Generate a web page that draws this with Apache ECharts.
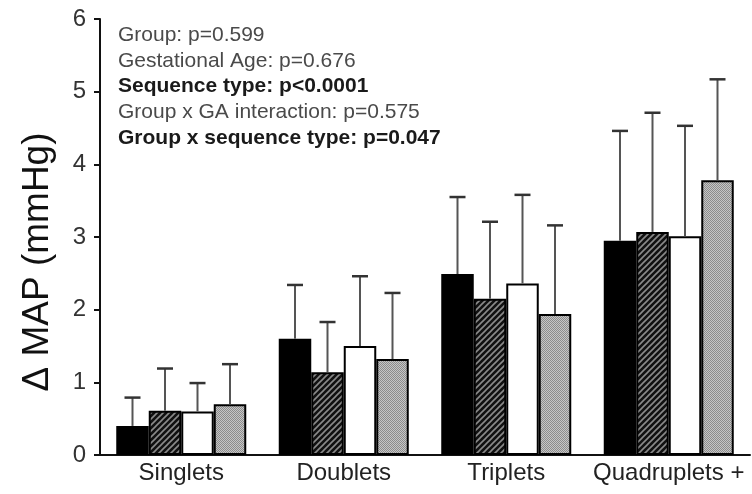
<!DOCTYPE html>
<html>
<head>
<meta charset="utf-8">
<script src="https://cdn.jsdelivr.net/npm/echarts@6/dist/echarts.min.js"></script>
<style>
  html, body { margin: 0; padding: 0; background: #fff; }
  #chart { width: 752px; height: 494px; }
</style>
</head>
<body>
<div id="chart"></div>
<script>
// Change in mean arterial pressure by plurality, four groups per category
const categories = ['Singlets', 'Doublets', 'Triplets', 'Quadruplets +'];
const groupNames = ['Group 1', 'Group 2', 'Group 3', 'Group 4'];

// bar heights (mean ΔMAP, mmHg)
const meanSolid   = [0.40, 1.60, 2.49, 2.95];
const meanHatched = [0.61, 1.14, 2.15, 3.07];
const meanWhite   = [0.60, 1.50, 2.36, 3.01];
const meanDotted  = [0.70, 1.32, 1.94, 3.78];

// upper end of each error bar (mean + SD)
const upperSolid   = [0.79, 2.34, 3.55, 4.46];
const upperHatched = [1.19, 1.83, 3.21, 4.71];
const upperWhite   = [0.99, 2.46, 3.58, 4.53];
const upperDotted  = [1.25, 2.23, 3.16, 5.17];

const yTicks = [0, 1, 2, 3, 4, 5, 6];

const statLines = [
  { text: 'Group: p=0.599', bold: false },
  { text: 'Gestational Age: p=0.676', bold: false },
  { text: 'Sequence type: p<0.0001', bold: true },
  { text: 'Group x GA interaction: p=0.575', bold: false },
  { text: 'Group x sequence type: p=0.047', bold: true }
];

// fill patterns
function hatchPattern() {
  const c = document.createElement('canvas');
  c.width = 6; c.height = 6;
  const g = c.getContext('2d');
  g.fillStyle = '#111';
  g.fillRect(0, 0, 6, 6);
  g.strokeStyle = '#8a8a8a';
  g.lineWidth = 1.6;
  g.beginPath();
  g.moveTo(-1, 7); g.lineTo(7, -1);
  g.moveTo(-4, 4); g.lineTo(4, -4);
  g.moveTo(2, 10); g.lineTo(10, 2);
  g.stroke();
  return c;
}
function dotPattern() {
  const c = document.createElement('canvas');
  c.width = 2; c.height = 2;
  const g = c.getContext('2d');
  g.fillStyle = '#c6c6c6';
  g.fillRect(0, 0, 2, 2);
  g.fillStyle = '#8c8c8c';
  g.fillRect(0, 0, 1, 1);
  g.fillRect(1, 1, 1, 1);
  return c;
}

const fills = [
  '#000',
  { image: hatchPattern(), repeat: 'repeat' },
  '#fff',
  { image: dotPattern(), repeat: 'repeat' }
];
const means = [meanSolid, meanHatched, meanWhite, meanDotted];
const uppers = [upperSolid, upperHatched, upperWhite, upperDotted];

const FONT = '"Liberation Sans", Arial, sans-serif';

const barSeries = means.map((vals, i) => ({
  name: groupNames[i],
  type: 'bar',
  data: vals,
  barGap: '0%',
  barCategoryGap: '20%',
  itemStyle: { color: fills[i], borderColor: '#000', borderWidth: 2 },
  z: 2
}));

// error bars drawn on top of each bar
const errData = [];
uppers.forEach((ups, s) => ups.forEach((u, c) => errData.push([c, means[s][c], u, s])));

const errSeries = {
  type: 'custom',
  name: 'error',
  data: errData,
  z: 3,
  renderItem: function (params, api) {
    const c = api.value(0), m = api.value(1), u = api.value(2), s = api.value(3);
    const band = api.size([1, 0])[0];
    const barW = band * 0.8 / 4;
    const base = api.coord([c, m]);
    const top = api.coord([c, u]);
    const x = base[0] + (s - 1.5) * barW;
    const cap = 8;
    return {
      type: 'group',
      children: [
        { type: 'line', shape: { x1: x, y1: base[1], x2: x, y2: top[1] },
          style: { stroke: '#555', lineWidth: 2 } },
        { type: 'line', shape: { x1: x - cap, y1: top[1], x2: x + cap, y2: top[1] },
          style: { stroke: '#333', lineWidth: 2.5 } }
      ]
    };
  }
};

const chart = echarts.init(document.getElementById('chart'));
chart.setOption({
  animation: false,
  backgroundColor: '#fff',
  grid: { left: 100, right: 2, top: 19, bottom: 39, containLabel: false },
  xAxis: {
    type: 'category',
    data: categories,
    axisLine: { lineStyle: { color: '#111', width: 2 } },
    axisTick: { alignWithLabel: true, length: 7, lineStyle: { color: '#111', width: 2 } },
    axisLabel: { color: '#222', fontSize: 24, fontFamily: FONT, margin: 6, interval: 0, hideOverlap: false }
  },
  yAxis: {
    type: 'value',
    min: yTicks[0],
    max: yTicks[yTicks.length - 1],
    interval: 1,
    name: '\u0394 MAP (mmHg)',
    nameLocation: 'middle',
    nameGap: 44,
    nameTextStyle: { fontSize: 37, color: '#111', fontFamily: FONT, padding: [0, 0, 0, -50] },
    splitLine: { show: false },
    axisLine: { show: true, lineStyle: { color: '#111', width: 2 } },
    axisTick: { show: true, length: 6, lineStyle: { color: '#111', width: 2 } },
    axisLabel: { color: '#333', fontSize: 24, fontFamily: FONT, margin: 14 }
  },
  graphic: statLines.map((l, i) => ({
    type: 'text',
    x: 118,
    y: 35 + i * 25.8,
    style: {
      text: l.text,
      verticalAlign: 'middle',
      font: (l.bold ? 'bold ' : '') + '21px ' + FONT,
      fill: l.bold ? '#1a1a1a' : '#4a4a4a'
    }
  })),
  series: barSeries.concat([errSeries])
});
</script>
</body>
</html>
